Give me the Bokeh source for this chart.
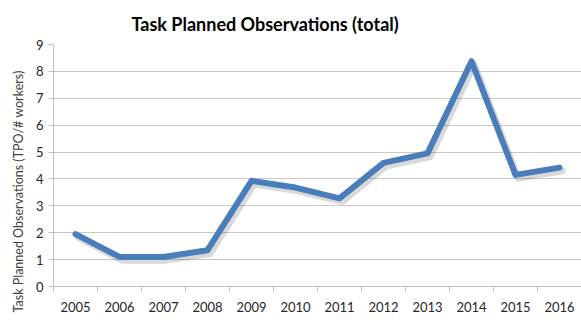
from bokeh.plotting import figure
from bokeh.models import FixedTicker, ColumnDataSource, Range1d, Title
from bokeh.transform import dodge
from bokeh.embed import file_html
from bokeh.resources import INLINE

years = [2005, 2006, 2007, 2008, 2009, 2010, 2011, 2012, 2013, 2014, 2015, 2016]
tpo = [1.95, 1.1, 1.1, 1.35, 3.93, 3.68, 3.28, 4.6, 4.95, 8.38, 4.15, 4.42]
y_ticks = [0, 1, 2, 3, 4, 5, 6, 7, 8, 9]
title_text = "Task Planned Observations (total)"
y_label_text = "Task Planned Observations (TPO/# workers)"

src = ColumnDataSource(dict(x=years, y=tpo))

p = figure(width=581, height=320, output_backend="svg", toolbar_location=None,
           x_range=Range1d(years[0] - 0.5, years[-1] + 0.5),
           y_range=Range1d(y_ticks[0], y_ticks[-1]),
           title=title_text,
           min_border_left=53, min_border_right=0, min_border_top=44, min_border_bottom=34)
p.background_fill_color = "white"
p.border_fill_color = "white"
p.outline_line_color = None

p.title.align = "left"
p.title.offset = 78
p.title.standoff = 19
p.title.text_font = "Lato"
p.title.text_font_style = "bold"
p.title.text_font_size = "18px"
p.title.text_color = "#000000"

# y-axis title as a vertical Title in the left panel
p.add_layout(Title(text=y_label_text, align="right", offset=26, standoff=14,
                   text_font="Lato", text_font_style="normal", text_font_size="12.5px",
                   text_color="#404040"), "left")

# shadow
p.line(x=dodge("x", 0.06), y=dodge("y", -0.12), source=src, line_width=7,
       line_color="#000000", line_alpha=0.15, line_join="round", line_cap="round")
p.line(x="x", y="y", source=src, line_width=6, line_color="#4a7ebb",
       line_join="round", line_cap="round")

p.xaxis.ticker = FixedTicker(ticks=years, minor_ticks=[y - 0.5 for y in years] + [years[-1] + 0.5])
p.xaxis.major_tick_out = 0
p.xaxis.major_tick_in = 0
p.xaxis.minor_tick_out = 5
p.xaxis.minor_tick_in = 0
p.xaxis.minor_tick_line_color = "#bfbfbf"
p.xaxis.major_label_standoff = 10

p.yaxis.ticker = FixedTicker(ticks=y_ticks, minor_ticks=[])
p.yaxis.major_tick_out = 5
p.yaxis.major_tick_in = 0
p.yaxis.major_tick_line_color = "#bfbfbf"
p.yaxis.major_label_standoff = 5

for ax in (p.xaxis, p.yaxis):
    ax.axis_line_color = "#bfbfbf"
    ax.major_label_text_font = "Lato"
    ax.major_label_text_font_size = "13px"
    ax.major_label_text_color = "#262626"

p.xgrid.grid_line_color = None
p.ygrid.grid_line_color = "#c8c8c8"
p.ygrid.grid_line_width = 1

open("out.html", "w").write(file_html(p, INLINE))
